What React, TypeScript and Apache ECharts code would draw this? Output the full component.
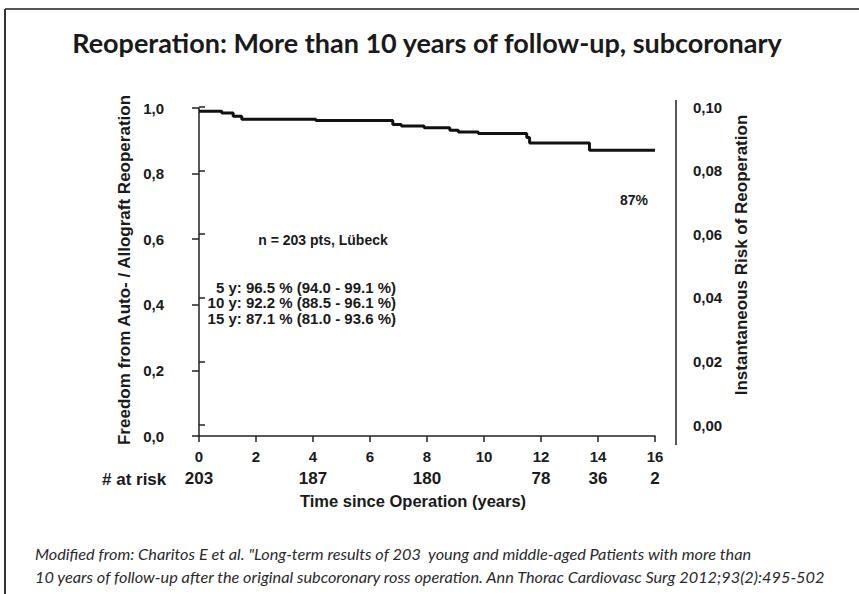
import React, { useEffect, useRef } from "react";
import * as echarts from "echarts";

// Kaplan-Meier freedom from reoperation (time in years, survival fraction)
const times = [0, 0.8, 1.2, 1.5, 4.1, 6.8, 7.1, 7.9, 8.8, 9.1, 9.8, 11.5, 11.6, 13.7, 16];
const survival = [0.99, 0.985, 0.975, 0.966, 0.962, 0.95, 0.945, 0.94, 0.932, 0.927, 0.922, 0.91, 0.893, 0.871, 0.871];

const riskTimes = [0, 4, 8, 12, 14, 16];
const riskCounts = [203, 187, 180, 78, 36, 2];

const statLines = [
  "5 y: 96.5 % (94.0 - 99.1 %)",
  "10 y: 92.2 % (88.5 - 96.1 %)",
  "15 y: 87.1 % (81.0 - 93.6 %)",
];

const titleText = "Reoperation: More than 10 years of follow-up, subcoronary";
const captionLines = [
  'Modified from: Charitos E et al. "Long-term results of 203  young and middle-aged Patients with more than',
  "10 years of follow-up after the original subcoronary ross operation. Ann Thorac Cardiovasc Surg 2012;93(2):495-502",
];

const AX = "'Liberation Sans', Arial, sans-serif";
const TXT = "#1a1a1a";

export default function App() {
  const ref = useRef<HTMLDivElement>(null);
  useEffect(() => {
    if (!ref.current) return;
    const chart = echarts.init(ref.current, undefined, { renderer: "svg" });
    const riskMap: Record<number, number> = {};
    riskTimes.forEach((t, i) => (riskMap[t] = riskCounts[i]));
    const lbl = { fontFamily: "Liberation Sans", fontWeight: "bold" as const, fontSize: 15, color: TXT };
    chart.setOption({
      animation: false,
      backgroundColor: "#fff",
      grid: [
        { left: 199, right: 204, top: 108, bottom: 158 },
        { left: 199, right: 183, top: 107, bottom: 169 },
      ],
      xAxis: [
        {
          type: "value", gridIndex: 0, min: 0, max: 16, interval: 2,
          axisLine: { show: true, lineStyle: { color: "#222", width: 1.5 } },
          axisTick: { show: true, length: 6, lineStyle: { color: "#222", width: 1.5 } },
          splitLine: { show: false },
          axisLabel: { ...lbl, margin: 13 },
        },
        {
          type: "value", gridIndex: 0, min: 0, max: 16, interval: 2, position: "bottom",
          axisLine: { show: false }, axisTick: { show: false }, splitLine: { show: false },
          axisLabel: { ...lbl, fontSize: 17, margin: 34, formatter: (v: number) => (riskMap[v] !== undefined ? String(riskMap[v]) : "") },
        },
        { type: "value", gridIndex: 1, min: 0, max: 16, show: false },
      ],
      yAxis: [
        {
          type: "value", gridIndex: 0, min: 0, max: 1, interval: 0.2, position: "left", offset: 20,
          axisLine: { show: true, lineStyle: { color: "#222", width: 1.5 } },
          axisTick: { show: true, length: 7, lineStyle: { color: "#222", width: 1.5 } },
          splitLine: { show: false },
          axisLabel: { ...lbl, margin: 15, formatter: (v: number) => v.toFixed(1).replace(".", ",") },
        },
        {
          type: "value", gridIndex: 1, min: 0, max: 0.1, interval: 0.02, position: "right",
          axisLine: { show: false },
          axisTick: { show: true, length: 6, lineStyle: { color: "#222", width: 1.5 } },
          splitLine: { show: false },
          axisLabel: { ...lbl, margin: 17, formatter: (v: number) => v.toFixed(2).replace(".", ",") },
        },
      ],
      series: [
        {
          type: "line", xAxisIndex: 0, yAxisIndex: 0, step: "end", symbol: "none",
          lineStyle: { color: "#111", width: 3 },
          data: times.map((t, i) => [t, survival[i]]),
        },
      ],
      graphic: [
        { type: "line", shape: { x1: 5, y1: 9, x2: 859, y2: 9 }, style: { stroke: "#555", lineWidth: 2 } },
        { type: "line", shape: { x1: 5, y1: 9, x2: 5, y2: 594 }, style: { stroke: "#333", lineWidth: 2 } },
        { type: "line", shape: { x1: 676, y1: 100, x2: 676, y2: 445 }, style: { stroke: "#222", lineWidth: 1.5 } },
        {
          type: "text", x: 427, y: 42,
          style: { text: titleText, font: "bold 27px Lato, sans-serif", fill: "#1a1a1a", textAlign: "center", textVerticalAlign: "middle" },
        },
        {
          type: "text", x: 124, y: 270, rotation: Math.PI / 2,
          style: { text: "Freedom from Auto- / Allograft Reoperation", font: `bold 17px ${AX}`, fill: TXT, textAlign: "center", textVerticalAlign: "middle" },
        },
        {
          type: "text", x: 741, y: 255, rotation: Math.PI / 2,
          style: { text: "Instantaneous Risk of Reoperation", font: `bold 17px ${AX}`, fill: TXT, textAlign: "center", textVerticalAlign: "middle" },
        },
        {
          type: "text", x: 413, y: 501,
          style: { text: "Time since Operation (years)", font: `bold 16.5px ${AX}`, fill: TXT, textAlign: "center", textVerticalAlign: "middle" },
        },
        {
          type: "text", x: 102, y: 479,
          style: { text: "# at risk", font: `bold 17px ${AX}`, fill: TXT, textAlign: "left", textVerticalAlign: "middle" },
        },
        {
          type: "text", x: 634, y: 200,
          style: { text: "87%", font: `bold 14px ${AX}`, fill: TXT, textAlign: "center", textVerticalAlign: "middle" },
        },
        {
          type: "text", x: 323, y: 240,
          style: { text: "n = 203 pts, Lübeck", font: `bold 14px ${AX}`, fill: TXT, textAlign: "center", textVerticalAlign: "middle" },
        },
        ...statLines.map((s, i) => ({
          type: "text", x: 396, y: 287 + i * 15.5,
          style: { text: s, font: `bold 15px ${AX}`, fill: TXT, textAlign: "right", textVerticalAlign: "middle" },
        })),
        ...captionLines.map((s, i) => ({
          type: "text", x: 35, y: 553 + i * 23,
          style: { text: s, font: "italic 16.3px Lato, sans-serif", fill: "#2a2a2a", textAlign: "left", textVerticalAlign: "middle" },
        })),
      ],
    });
    return () => chart.dispose();
  }, []);
  return <div ref={ref} style={{ position: "fixed", left: 0, top: 0, width: 859, height: 594 }} />;
}
